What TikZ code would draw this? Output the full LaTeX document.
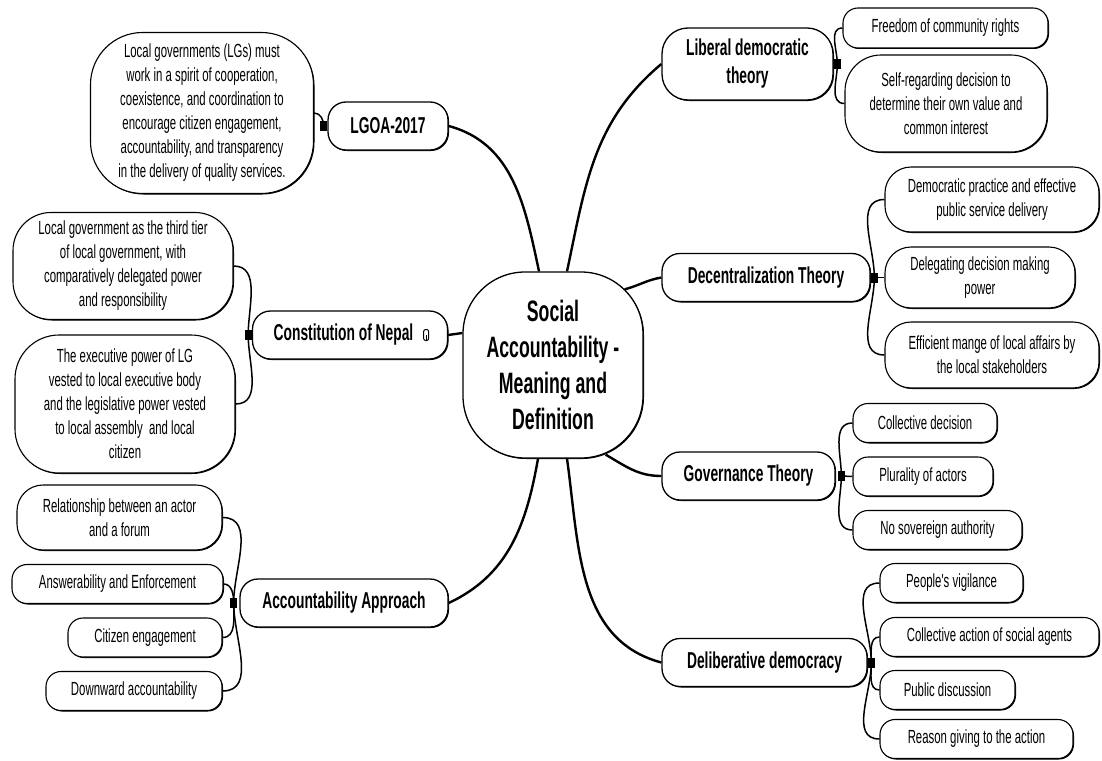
\documentclass[tikz,border=0pt]{standalone}
\usepackage{fontspec}
\newfontfamily\mapfont[FakeStretch=0.6]{Liberation Sans}
\usetikzlibrary{positioning,shadows}

\begin{document}
\begin{tikzpicture}[x=1pt, y=-1pt,
    edgeshadow/.style={drop shadow={shadow xshift=1pt, shadow yshift=-1pt, opacity=1, fill=black}},
    hub/.style={rectangle, rounded corners=62pt, draw, fill=white, line width=1.3pt,
                minimum width=180pt, minimum height=186pt, inner sep=0pt, align=center,
                font=\mapfont\bfseries\fontsize{29.5}{36}\selectfont, edgeshadow},
    branch/.style={rectangle, rounded corners=18pt, draw, fill=white, line width=1.3pt,
                minimum height=48pt, inner sep=0pt, align=center,
                font=\mapfont\bfseries\fontsize{23}{28}\selectfont, edgeshadow},
    leaf/.style={rectangle, rounded corners=15pt, draw, fill=white, line width=1.1pt,
                minimum height=39pt, inner sep=0pt, align=center,
                font=\mapfont\fontsize{19}{24}\selectfont, edgeshadow},
    knot/.style={rectangle, fill=black, minimum width=7pt, minimum height=10pt, inner sep=0pt},
    clipicon/.style={rectangle, draw, line width=1pt, rounded corners=2pt,
                minimum width=5pt, minimum height=11pt, inner sep=0pt},
    trunk/.style={line width=2.4pt},
    twig/.style={line width=1.5pt}
  ]
  \useasboundingbox (0,0) rectangle (1102,760);

  % Centre
  \node[hub] (sa) at (553,365) {Social\\Accountability -\\Meaning and\\Definition};

  % Left branches
  \node[branch, minimum width=120pt] (lgoa) at (388,126) {LGOA-2017};
  \node[leaf, rounded corners=52pt, minimum width=223pt, minimum height=161pt] (lgoaA) at (202,113)
    {Local governments (LGs) must\\work in a spirit of cooperation,\\coexistence, and coordination to\\encourage citizen engagement,\\accountability, and transparency\\in the delivery of quality services.};

  \node[branch, minimum width=195pt] (cons) at (350,335) {Constitution of Nepal\hspace{13pt}};
  \node[clipicon, left=19pt of cons.east] (clip) {};
  \node[leaf, rounded corners=38pt, minimum width=220pt, minimum height=107pt] (consA) at (123,266)
    {Local government as the third tier\\of local government, with\\comparatively delegated power\\and responsibility};
  \node[leaf, rounded corners=44pt, minimum width=220pt, minimum height=138pt] (consB) at (125,404)
    {The executive power of LG\\vested to local executive body\\and the legislative power vested\\to local assembly\ \ and local\\citizen};

  \node[branch, minimum width=208pt] (acc) at (344,603) {Accountability Approach};
  \node[leaf, rounded corners=26pt, minimum width=205pt, minimum height=65pt] (accA) at (119.5,517.5)
    {Relationship between an actor\\and a forum};
  \node[leaf, minimum width=211pt] (accB) at (117.5,584) {Answerability and Enforcement};
  \node[leaf, minimum width=154pt] (accC) at (145,637.5) {Citizen engagement};
  \node[leaf, minimum width=176pt] (accD) at (134,691) {Downward accountability};

  % Right branches
  \node[branch, rounded corners=26pt, minimum width=171pt, minimum height=72pt] (lib) at (747.5,64)
    {Liberal democratic\\theory};
  \node[leaf, minimum width=205pt, minimum height=40pt] (libA) at (945.5,28) {Freedom of community rights};
  \node[leaf, rounded corners=36pt, minimum width=202pt, minimum height=97pt] (libB) at (946,103.5)
    {Self-regarding decision to\\determine their own value and\\common interest};

  \node[branch, minimum width=208pt] (dec) at (766,277.5) {Decentralization Theory};
  \node[leaf, rounded corners=26pt, minimum width=214pt, minimum height=65pt] (decA) at (992,199.5)
    {Democratic practice and effective\\public service delivery};
  \node[leaf, rounded corners=26pt, minimum width=190pt, minimum height=61pt] (decB) at (980,277.5)
    {Delegating decision making\\power};
  \node[leaf, rounded corners=26pt, minimum width=214pt, minimum height=66pt] (decC) at (992,355)
    {Efficient mange of local affairs by\\the local stakeholders};

  \node[branch, minimum width=173pt] (gov) at (748.5,476) {Governance Theory};
  \node[leaf, minimum width=144pt] (govA) at (925,423) {Collective decision};
  \node[leaf, minimum width=140pt] (govB) at (923,476.5) {Plurality of actors};
  \node[leaf, minimum width=169pt] (govC) at (937.5,530) {No sovereign authority};

  \node[branch, minimum width=205pt] (del) at (764.5,662.5) {Deliberative democracy};
  \node[leaf, minimum width=143pt] (delA) at (951.5,583) {People's vigilance};
  \node[leaf, minimum width=219pt] (delB) at (989.5,637) {Collective action of social agents};
  \node[leaf, minimum width=135pt] (delC) at (947.5,690) {Public discussion};
  \node[leaf, minimum width=193pt] (delD) at (976.5,739) {Reason giving to the action};

  % Knots
  \node[knot, left=0pt of lgoa] (kLgoa) {};
  \node[knot, left=0pt of cons] (kCons) {};
  \node[knot, left=2pt of acc] (kAcc) {};
  \node[knot, right=0pt of lib] (kLib) {};
  \node[knot, right=0pt of dec] (kDec) {};
  \node[knot, right=2pt of gov] (kGov) {};
  \node[knot, right=0pt of del] (kDel) {};

  % Trunks
  \draw[trunk] ([xshift=-14pt]sa.north) to[out=102,in=-15] (lgoa.east);
  \draw[trunk] ([xshift=14pt]sa.north) to[out=78,in=-140] (lib.west);
  \draw[trunk] ([yshift=32pt]sa.west) -- (cons.east);
  \draw[trunk] ([xshift=-15pt]sa.south) to[out=-100,in=25] (acc.east);
  \draw[trunk] ([xshift=-19pt,yshift=-18pt]sa.north east) to[out=15,in=190] (dec.west);
  \draw[trunk] ([xshift=-38pt,yshift=4pt]sa.south east) to[out=-30,in=180] (gov.west);
  \draw[trunk] ([xshift=14pt]sa.south) to[out=-82,in=165] (del.west);

  % Twigs
  \draw[twig] (kLgoa.center) to[out=90,in=0] (lgoaA.east);
  \draw[twig] (kCons.center) to[out=90,in=0] (consA.east);
  \draw[twig] (kCons.center) to[out=-90,in=0] (consB.east);
  \draw[twig] (kAcc.center) to[out=90,in=0] (accA.east);
  \draw[twig] (kAcc.center) to[out=90,in=0] (accB.east);
  \draw[twig] (kAcc.center) to[out=-90,in=0] (accC.east);
  \draw[twig] (kAcc.center) to[out=-90,in=0] (accD.east);
  \draw[twig] (kLib.center) to[out=90,in=180] (libA.west);
  \draw[twig] (kLib.center) to[out=-90,in=180] (libB.west);
  \draw[twig] (kDec.center) to[out=90,in=180] (decA.west);
  \draw[twig] (kDec.center) -- (decB.west);
  \draw[twig] (kDec.center) to[out=-90,in=180] (decC.west);
  \draw[twig] (kGov.center) to[out=90,in=180] (govA.west);
  \draw[twig] (kGov.center) -- (govB.west);
  \draw[twig] (kGov.center) to[out=-90,in=180] (govC.west);
  \draw[twig] (kDel.center) to[out=90,in=180] (delA.west);
  \draw[twig] (kDel.center) to[out=90,in=180] (delB.west);
  \draw[twig] (kDel.center) to[out=-90,in=180] (delC.west);
  \draw[twig] (kDel.center) to[out=-90,in=180] (delD.west);
  \draw[line width=1pt] (clip.center) -- (clip.south);
\end{tikzpicture}
\end{document}
